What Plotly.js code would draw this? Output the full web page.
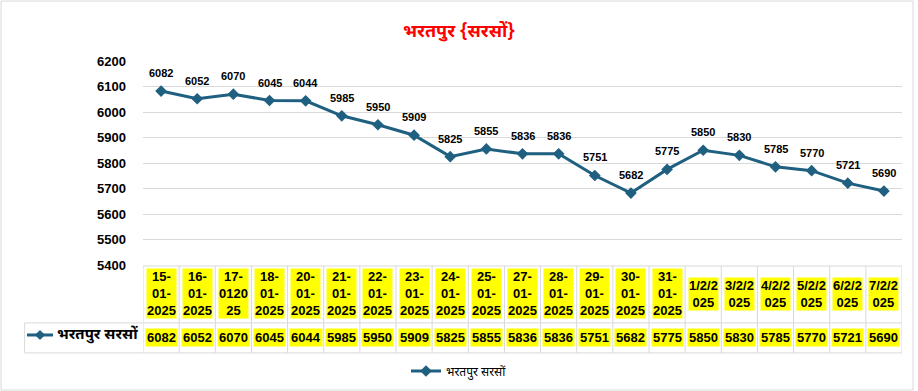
<!DOCTYPE html>
<html>
<head>
<meta charset="utf-8">
<script src="https://cdn.plot.ly/plotly-3.0.1.min.js"></script>
<style>
html,body{margin:0;padding:0;background:#fff;}
#chart{width:918px;height:391px;}
</style>
</head>
<body>
<div id="chart"></div>
<script>
// ---- data ----
var categories = ["15-01-2025","16-01-2025","17-012025","18-01-2025","20-01-2025","21-01-2025","22-01-2025","23-01-2025","24-01-2025","25-01-2025","27-01-2025","28-01-2025","29-01-2025","30-01-2025","31-01-2025","1/2/2025","3/2/2025","4/2/2025","5/2/2025","6/2/2025","7/2/2025"];
var headerLabels = ["15-<br>01-<br>2025","16-<br>01-<br>2025","17-<br>0120<br>25","18-<br>01-<br>2025","20-<br>01-<br>2025","21-<br>01-<br>2025","22-<br>01-<br>2025","23-<br>01-<br>2025","24-<br>01-<br>2025","25-<br>01-<br>2025","27-<br>01-<br>2025","28-<br>01-<br>2025","29-<br>01-<br>2025","30-<br>01-<br>2025","31-<br>01-<br>2025","1/2/2<br>025","3/2/2<br>025","4/2/2<br>025","5/2/2<br>025","6/2/2<br>025","7/2/2<br>025"];
var prices = [6082,6052,6070,6045,6044,5985,5950,5909,5825,5855,5836,5836,5751,5682,5775,5850,5830,5785,5770,5721,5690];
var seriesName = "भरतपुर सरसों";
var chartTitle = "भरतपुर {सरसों}";
var yTicks = [5400,5500,5600,5700,5800,5900,6000,6100,6200];

// ---- styles ----
var lineColor = "#1F5F80";
var gridColor = "#D9D9D9";
var sans = "'Liberation Sans', Arial, sans-serif";
var deva = "'Noto Sans Devanagari', Mangal, 'Noto Sans', sans-serif";

var trace = {
  type: "scatter",
  mode: "lines+markers",
  x: categories,
  y: prices,
  name: seriesName,
  line: {color: lineColor, width: 3},
  marker: {symbol: "diamond", size: 9, color: lineColor},
  hoverinfo: "x+y"
};

var annotations = [];
var shapes = [];

// point labels
categories.forEach(function(c, i){
  annotations.push({
    x: c, y: prices[i], xref: "x", yref: "y",
    text: "<b>" + prices[i] + "</b>", showarrow: false, yshift: 18,
    font: {family: sans, size: 11, color: "#000"}
  });
});

// data table rows
var headerY = -0.142, dataY = -0.355;
categories.forEach(function(c, i){
  annotations.push({
    x: c, y: headerY, xref: "x", yref: "paper", yanchor: "middle",
    text: "<b>" + headerLabels[i] + "</b>", showarrow: false,
    bgcolor: "#FFFF00", borderpad: 0,
    font: {family: sans, size: 13, color: "#000"}
  });
  annotations.push({
    x: c, y: dataY, xref: "x", yref: "paper", yanchor: "middle",
    text: "<b>" + prices[i] + "</b>", showarrow: false,
    bgcolor: "#FFFF00", borderpad: 1,
    font: {family: sans, size: 13, color: "#000"}
  });
});

// table grid
var tTop = -0.005, tMid = -0.284, tBot = -0.431, keyLeft = -0.156;
for (var i = 0; i <= categories.length; i++) {
  shapes.push({type: "line", xref: "x", yref: "paper", x0: i - 0.5, x1: i - 0.5, y0: tTop, y1: tBot,
    line: {color: gridColor, width: 1}});
}
shapes.push({type: "line", xref: "paper", yref: "paper", x0: 0, x1: 1, y0: tTop, y1: tTop, line: {color: gridColor, width: 1}});
shapes.push({type: "line", xref: "paper", yref: "paper", x0: keyLeft, x1: 1, y0: tMid, y1: tMid, line: {color: gridColor, width: 1}});
shapes.push({type: "line", xref: "paper", yref: "paper", x0: keyLeft, x1: 1, y0: tBot, y1: tBot, line: {color: gridColor, width: 1}});
shapes.push({type: "line", xref: "paper", yref: "paper", x0: keyLeft, x1: keyLeft, y0: tMid, y1: tBot, line: {color: gridColor, width: 1}});

// legend key inside table
var keyY = -0.343;
shapes.push({type: "line", xref: "paper", yref: "paper", x0: -0.1528, x1: -0.1186, y0: keyY, y1: keyY,
  line: {color: lineColor, width: 3}});
shapes.push({type: "path", xref: "paper", yref: "paper", xsizemode: "pixel", ysizemode: "pixel",
  xanchor: -0.1357, yanchor: keyY, path: "M 0 4.5 L 4.5 0 L 0 -4.5 L -4.5 0 Z",
  fillcolor: lineColor, line: {color: lineColor, width: 1}});
annotations.push({x: -0.1160, y: keyY, xref: "paper", yref: "paper", xanchor: "left", yanchor: "middle",
  text: "<b>" + seriesName + "</b>", showarrow: false, font: {family: deva, size: 15, color: "#000"}});

// outer border
shapes.push({type: "rect", xref: "paper", yref: "paper", x0: -0.187, x1: 1.0145, y0: -0.613, y1: 1.294,
  line: {color: gridColor, width: 1}, fillcolor: "rgba(0,0,0,0)"});

var layout = {
  width: 918, height: 391,
  margin: {l: 143, r: 16, t: 61, b: 126, autoexpand: false},
  paper_bgcolor: "#fff", plot_bgcolor: "#fff",
  title: {text: "<b>" + chartTitle + "</b>", x: 0.5, xref: "container", y: 1 - 31/391, yref: "container", yanchor: "middle",
    font: {family: deva, size: 18, color: "#FF0000"}},
  xaxis: {type: "category", categoryorder: "array", categoryarray: categories, range: [-0.5, categories.length - 0.5],
    showticklabels: false, showgrid: false, zeroline: false, showline: false, ticks: "", automargin: false},
  yaxis: {range: [5400, 6200], tickvals: yTicks, showgrid: true, gridcolor: gridColor, gridwidth: 1,
    zeroline: false, showline: false, ticks: "", ticklabelstandoff: 16, automargin: false,
    tickfont: {family: sans, size: 13, color: "#000", weight: "bold"}},
  showlegend: true,
  legend: {orientation: "h", x: 0.5, xref: "container", xanchor: "center", y: 1 - 371/391, yref: "container", yanchor: "middle", itemwidth: 30,
    font: {family: deva, size: 12, color: "#000"}, bgcolor: "rgba(0,0,0,0)"},
  annotations: annotations,
  shapes: shapes
};

Plotly.newPlot("chart", [trace], layout, {displayModeBar: false, staticPlot: true});
</script>
</body>
</html>
